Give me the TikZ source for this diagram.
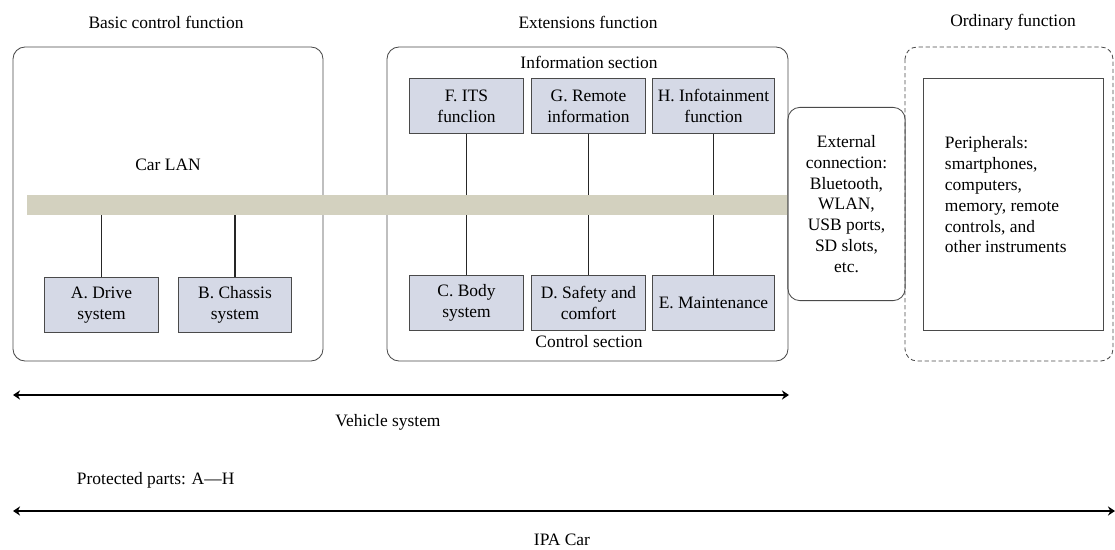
\documentclass[tikz,border=0pt]{standalone}
\usepackage{fontspec}
\setmainfont{Liberation Serif}
\usetikzlibrary{arrows.meta}

\definecolor{unitfill}{HTML}{D5D9E6}
\definecolor{busfill}{HTML}{D3D1BF}
\definecolor{edgegray}{HTML}{4A4A4A}

\begin{document}
\begin{tikzpicture}[x=0.025cm, y=-0.025cm,
  font=\fontsize{12.4}{14.8}\selectfont,
  unit/.style={draw=edgegray, line width=0.6pt, fill=unitfill, align=center,
    inner sep=1pt, minimum width=2.83cm, minimum height=1.37cm},
  frame/.style={draw=edgegray, line width=0.6pt, rounded corners=0.3cm},
  link/.style={line width=1.4pt, draw=black!85},
  span/.style={line width=1.2pt, {Stealth[length=5pt,width=6.5pt]}-{Stealth[length=5pt,width=6.5pt]}}]
  \useasboundingbox (0,0) rectangle (1115,550);

  % group frames
  \draw[frame] (13,47) rectangle (323,361);
  \draw[frame] (387,47) rectangle (788,361);
  \draw[frame, dash pattern=on 3pt off 2pt] (905,47) rectangle (1113,361);

  \node (basic) at (166,22) {Basic control function};
  \node (ext)   at (588,22) {Extensions function};
  \node (ord)   at (1013,22) {Ordinary function};

  \node (info) at (589,62) {Information section};
  \node (ctrl) at (589,342) {Control section};
  \node (lanlabel) at (168,165) {Car LAN};

  % car LAN bus
  \node[fill=busfill, minimum width=19.03cm, minimum height=0.5cm, inner sep=0pt]
    (lan) at (407.5,205) {};

  % control units
  \node[unit] (A) at (101.5,305) {A. Drive\\system};
  \node[unit] (B) at (235,305) {B. Chassis\\system};
  \node[unit] (C) at (466.5,303) {C. Body\\system};
  \node[unit] (D) at (588.5,303) {D. Safety and\\comfort};
  \node[unit, minimum width=3.03cm] (E) at (713.5,303) {E. Maintenance};
  \node[unit] (F) at (466.5,106) {F. ITS\\funclion};
  \node[unit] (G) at (588.5,106) {G. Remote\\information};
  \node[unit, minimum width=3.03cm] (H) at (713.5,106) {H. Infotainment\\function};

  % links to the bus
  \foreach \u in {A,B,C,D,E}
    \draw[link] (\u.north) -- (\u.north |- lan.south);
  \foreach \u in {F,G,H}
    \draw[link] (\u.south) -- (\u.south |- lan.north);

  % external side
  \node[draw=edgegray, line width=0.6pt, rounded corners=0.3cm, align=center,
    minimum width=2.93cm, minimum height=4.83cm] (extconn) at (846.5,204)
    {External\\connection:\\Bluetooth,\\WLAN,\\USB ports,\\SD slots,\\etc.};
  \node[draw=edgegray, line width=0.6pt, minimum width=4.48cm, minimum height=6.28cm]
    (periph) at (1013.5,204.5) {};
  \node[align=left, anchor=west] (periphtext) at (940,195)
    {Peripherals:\\smartphones,\\computers,\\memory, remote\\controls, and\\other instruments};

  % system spans
  \coordinate (vs-l) at (13,395);
  \coordinate (vs-r) at (789,395);
  \coordinate (ipa-l) at (13,511);
  \coordinate (ipa-r) at (1115,511);
  \draw[span] (vs-l) -- (vs-r);
  \draw[span] (ipa-l) -- (ipa-r);

  \node (vslabel) at (388,422) {Vehicle system};
  \node[anchor=west] (protected) at (72,480) {Protected parts: A---H};
  \node (ipalabel) at (562,540) {IPA Car};
\end{tikzpicture}
\end{document}
